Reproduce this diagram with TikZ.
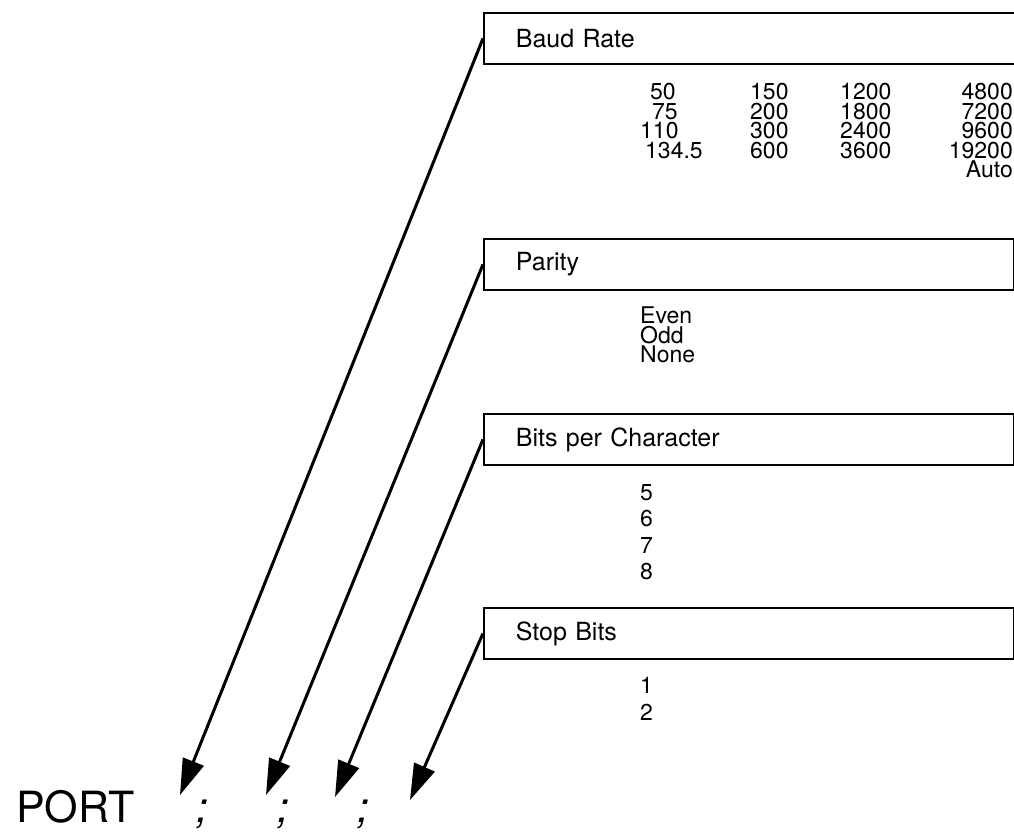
\documentclass[tikz,border=0pt]{standalone}
\usepackage{fontspec}
\setmainfont{TeX Gyre Heros}
\usetikzlibrary{arrows.meta, positioning}

\begin{document}
\begin{tikzpicture}[x=1pt, y=-1pt,
    >={Triangle[length=36pt, width=22pt]},
    field/.style={rectangle, draw, line width=1.8pt, anchor=north west,
      minimum width=530pt, minimum height=51pt, text width=466pt, align=left,
      inner xsep=32pt, font=\fontsize{25}{25}\selectfont},
    vals/.style={anchor=north west, align=left, inner sep=0pt,
      font=\fontsize{23}{19.5}\selectfont},
    wide/.style={vals, font=\fontsize{23}{26.5}\selectfont},
    rvals/.style={vals, anchor=north east, align=right},
    big/.style={anchor=base, inner sep=0pt, font=\fontsize{43}{43}\selectfont},
    ptr/.style={->, line width=3pt}]
  \useasboundingbox (0,0) rectangle (1014,834);
  % option boxes
  \node[field, minimum width=540pt, text width=476pt] (baud) at (483,12) {Baud Rate};
  \node[field] (par) at (483,238) {Parity};
  \node[field] (bits) at (483,413) {Bits per Character};
  \node[field] (stop) at (483,607) {Stop Bits};
  % values
  \node[vals] (b1) at (640,83) {\hspace*{10pt}50\\\hspace*{12pt}75\\110\\\hspace*{5pt}134.5};
  \node[vals] (b2) at (750,83) {150\\200\\300\\600};
  \node[vals] (b3) at (840,83) {1200\\1800\\2400\\3600};
  \node[rvals] (b4) at (1013,83) {4800\\7200\\9600\\19200\\Auto};
  \node[vals] (pv) at (640,307) {Even\\Odd\\None};
  \node[wide] (bv) at (640,484) {5\\6\\7\\8};
  \node[wide] (sv) at (640,677) {1\\2};
  % statement
  \node[big, anchor=base west] (port) at (16,822) {PORT};
  \node[big] (s1) at (202,822) {\itshape ;};
  \node[big] (s2) at (283,822) {\itshape ;};
  \node[big] (s3) at (363,822) {\itshape ;};
  \coordinate (t1) at (180,795);
  \coordinate (t2) at (266,795);
  \coordinate (t3) at (335,797);
  \coordinate (t4) at (410,800);
  \draw[ptr] (baud.west) -- (t1);
  \draw[ptr] (par.west) -- (t2);
  \draw[ptr] (bits.west) -- (t3);
  \draw[ptr] (stop.west) -- (t4);
\end{tikzpicture}
\end{document}
